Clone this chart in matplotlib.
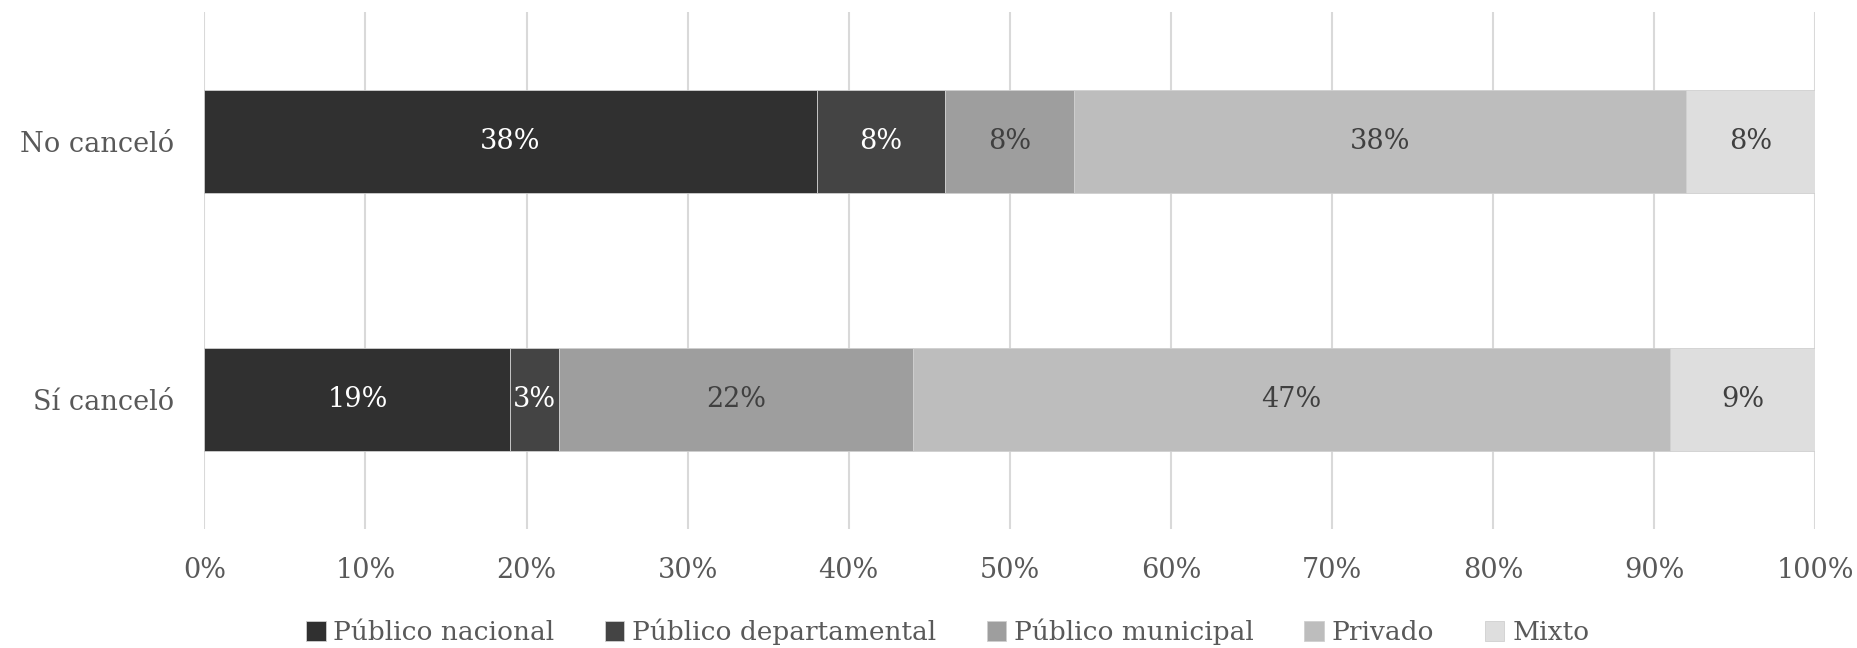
import matplotlib.pyplot as plt
import numpy as np

categories = ["Sí canceló", "No canceló"]
series = ["Público nacional", "Público departamental", "Público municipal", "Privado", "Mixto"]
values = {
    "Público nacional": [19, 38],
    "Público departamental": [3, 8],
    "Público municipal": [22, 8],
    "Privado": [47, 38],
    "Mixto": [9, 8],
}
colors = ["#303030", "#444444", "#9e9e9e", "#bdbdbd", "#dedede"]
label_colors = ["white", "white", "#404040", "#404040", "#404040"]

plt.rcParams["font.family"] = ["DejaVu Serif"]
text_color = "#595959"
fs = 19.5

fig = plt.figure(figsize=(18.58, 6.48), dpi=100)
ax = fig.add_axes([0.110, 0.184, 0.867, 0.797])

y = np.arange(len(categories))
left = np.zeros(len(categories))
for name, col, lcol in zip(series, colors, label_colors):
    vals = np.array(values[name], dtype=float)
    bars = ax.barh(y, vals, left=left, height=0.4, color=col, edgecolor="#cfcfcf",
                   linewidth=0.6, label=name, zorder=3)
    for b, v in zip(bars, vals):
        ax.text(b.get_x() + b.get_width() / 2, b.get_y() + b.get_height() / 2,
                f"{v:.0f}%", ha="center", va="center", color=lcol, fontsize=fs, zorder=4)
    left += vals

ax.set_xlim(0, 100)
ax.set_ylim(-0.5, 1.5)
ax.set_xticks(np.arange(0, 101, 10))
ax.set_xticklabels([f"{t}%" for t in range(0, 101, 10)])
ax.set_yticks(y)
ax.set_yticklabels(categories)
ax.tick_params(axis="both", length=0, labelsize=fs, labelcolor=text_color)
ax.tick_params(axis="x", pad=20)
ax.tick_params(axis="y", pad=22)
ax.grid(axis="x", color="#d9d9d9", linewidth=1.5, zorder=0)
for s in ax.spines.values():
    s.set_visible(False)

leg = fig.legend(loc="center", bbox_to_anchor=(0.51, 0.025), ncol=5, frameon=False,
                 fontsize=19, handlelength=0.75, handleheight=0.75, handletextpad=0.3,
                 columnspacing=1.9)
for t in leg.get_texts():
    t.set_color(text_color)

fig.savefig("out.png", dpi=100)
